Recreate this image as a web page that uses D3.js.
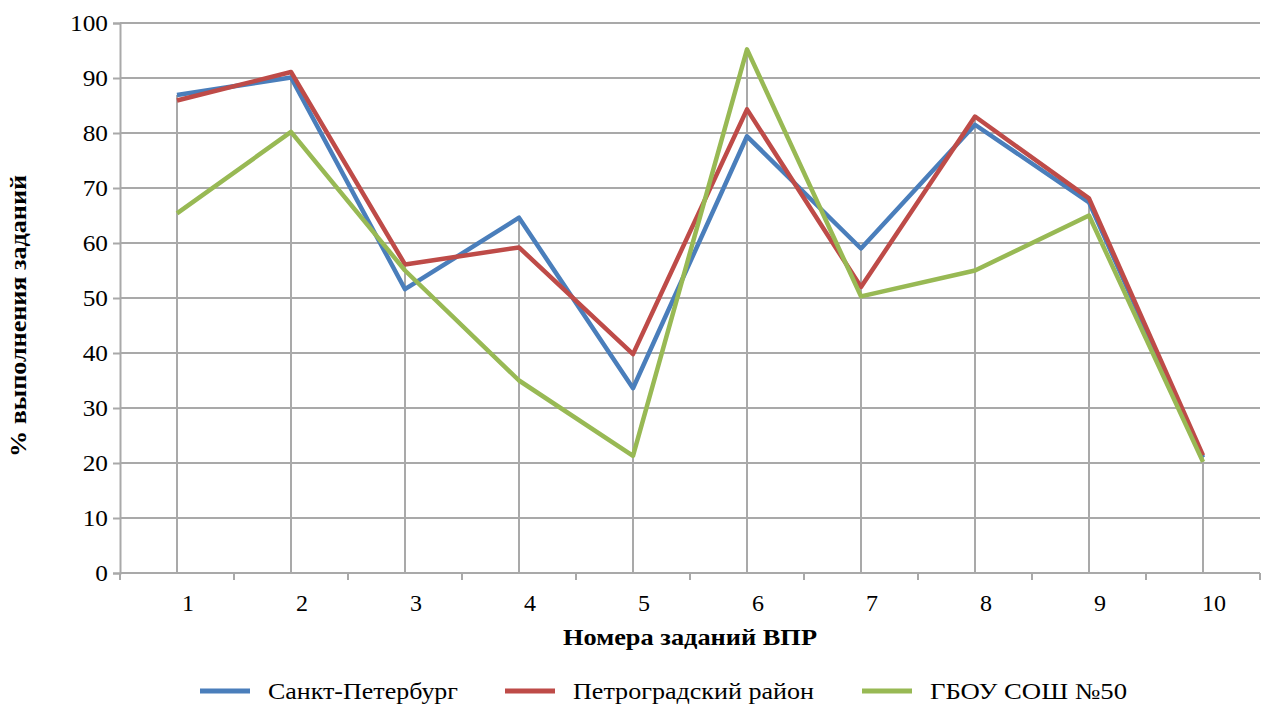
<!DOCTYPE html>
<html><head><meta charset="utf-8">
<script src="https://cdn.jsdelivr.net/npm/d3@7"></script>
</head>
<body>
<svg id="c" width="1267" height="709"></svg>
<script>
const categories = ["1","2","3","4","5","6","7","8","9","10"];
const seriesNames = ["Санкт-Петербург","Петроградский район","ГБОУ СОШ №50"];
const spb    = [86.9, 90.1, 51.6, 64.6, 33.6, 79.4, 59.0, 81.5, 67.4, 21.0];
const petr   = [85.9, 91.1, 56.1, 59.2, 39.8, 84.3, 52.0, 83.0, 68.1, 21.4];
const school = [65.4, 80.2, 55.0, 35.0, 21.3, 95.2, 50.3, 55.0, 65.0, 20.2];
const yTicks = [0,10,20,30,40,50,60,70,80,90,100];
const xTitle = "Номера заданий ВПР";
const yTitle = "% выполнения заданий";
const colors = ["#4a7ebb","#be4b48","#98b954"];
const FONT = '"Liberation Serif"';

d3.select("body").style("margin","0").style("background","#fff");
d3.select("#c").style("display","block");
const svg = d3.select("#c");
const L=120, R=1260, T=23, B=573;
const grid = "#a9a9a9";
const xS = d3.scaleBand().domain(categories).range([L,R]).padding(0);
const yS = d3.scaleLinear().domain([0,100]).range([B,T]);
const cx = c => xS(c) + xS.bandwidth()/2;

// horizontal gridlines
svg.append("g").selectAll("line").data(yTicks.filter(v=>v>0)).join("line")
  .attr("x1",L).attr("x2",R).attr("y1",d=>yS(d)).attr("y2",d=>yS(d))
  .attr("stroke",grid).attr("stroke-width",2);

// drop lines
const allSeries = [spb, petr, school];
svg.append("g").selectAll("line").data(categories).join("line")
  .attr("x1",d=>cx(d)).attr("x2",d=>cx(d))
  .attr("y1",(d,i)=>yS(d3.max(allSeries,s=>s[i]))).attr("y2",B)
  .attr("stroke",grid).attr("stroke-width",2);

// y axis
const ya = svg.append("g").attr("transform",`translate(${L},0)`)
  .call(d3.axisLeft(yS).tickValues(yTicks).tickSize(7).tickPadding(5));
ya.select(".domain").attr("stroke",grid).attr("stroke-width",2);
ya.selectAll(".tick line").attr("stroke",grid).attr("stroke-width",2);
ya.selectAll(".tick text").style("font-size","23px").style("font-family",FONT).attr("fill","#000")
  .attr("dy","0.34em").attr("transform","translate(-12,0) scale(1.1,1) translate(12,0)");

// x axis
const xa = svg.append("g").attr("transform",`translate(0,${B})`)
  .call(d3.axisBottom(xS).tickSize(0).tickPadding(0));
xa.select(".domain").remove();
xa.selectAll(".tick text").style("font-size","24px").style("font-family",FONT).attr("fill","#000")
  .attr("x",11).attr("y",30).attr("dy","0.35em");
svg.append("line").attr("x1",L).attr("x2",R).attr("y1",B).attr("y2",B).attr("stroke",grid).attr("stroke-width",2);
const edges = categories.map(c=>xS(c)).concat([R]);
svg.append("g").selectAll("line").data(edges).join("line")
  .attr("x1",d=>d).attr("x2",d=>d).attr("y1",B).attr("y2",B+7)
  .attr("stroke",grid).attr("stroke-width",2);

// series lines
const lineGen = d3.line().x((d,i)=>cx(categories[i])).y(d=>yS(d));
allSeries.forEach((s,k)=>{
  svg.append("path").datum(s).attr("d",lineGen).attr("fill","none")
    .attr("stroke",colors[k]).attr("stroke-width",4.5).attr("stroke-linejoin","round");
});

// titles
svg.append("text").attr("x",690).attr("y",637).attr("dy","0.35em").attr("text-anchor","middle")
  .style("font-family",FONT).style("font-size","23px").style("font-weight","bold")
  .attr("textLength",254).attr("lengthAdjust","spacingAndGlyphs").text(xTitle);
svg.append("text").attr("transform","translate(18,316) rotate(-90)").attr("dy","0.35em").attr("text-anchor","middle")
  .style("font-family",FONT).style("font-size","23px").style("font-weight","bold")
  .attr("textLength",282).attr("lengthAdjust","spacingAndGlyphs").text(yTitle);

// legend
const legX = [200, 505, 862];
const legW = [190, 241, 197];
seriesNames.forEach((n,k)=>{
  svg.append("line").attr("x1",legX[k]).attr("x2",legX[k]+50).attr("y1",691).attr("y2",691)
    .attr("stroke",colors[k]).attr("stroke-width",5);
  svg.append("text").attr("x",legX[k]+68).attr("y",691).attr("dy","0.35em")
    .style("font-family",FONT).style("font-size","23px")
    .attr("textLength",legW[k]).attr("lengthAdjust","spacingAndGlyphs").text(n);
});
</script>
</body></html>
